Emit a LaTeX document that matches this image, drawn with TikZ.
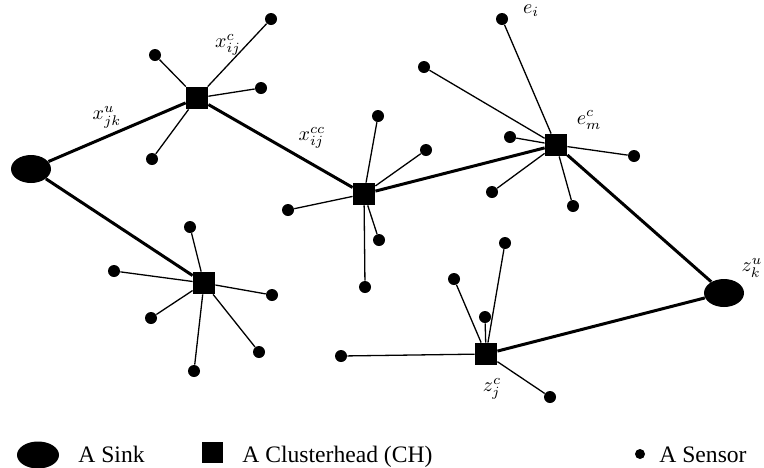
\documentclass[tikz,border=0pt]{standalone}
\usepackage{fontspec}
\setmainfont{Liberation Serif}
\usetikzlibrary{shapes.geometric}
\begin{document}
\begin{tikzpicture}[x=0.5pt,y=-0.5pt,
  sink/.style={ellipse, fill=black, draw=none, minimum width=20pt, minimum height=14pt, inner sep=0pt},
  chead/.style={rectangle, fill=black, draw=none, minimum size=11pt, inner sep=0pt},
  sensor/.style={circle, fill=black, draw=none, minimum size=6pt, inner sep=0pt},
  link/.style={line width=1.5pt},
  tie/.style={line width=0.65pt},
  lab/.style={font=\fontsize{10.3}{12}\selectfont, inner sep=0pt},
  legtext/.style={font=\fontsize{11.8}{14}\selectfont, anchor=base west, inner sep=0pt}]
\useasboundingbox (0,0) rectangle (764,467);
% sinks
\node[sink] (s1) at (31,169) {};
\node[sink] (s2) at (724,293) {};
% clusterheads
\node[chead] (A) at (197,98) {};
\node[chead] (B) at (364,194) {};
\node[chead] (C) at (556,145) {};
\node[chead] (D) at (204,283) {};
\node[chead] (E) at (486,354) {};
% sensors cluster A
\node[sensor] (a1) at (271,19) {};
\node[sensor] (a2) at (155,55) {};
\node[sensor] (a3) at (261,88) {};
\node[sensor] (a4) at (152,159) {};
% sensors cluster B
\node[sensor] (b1) at (378,116) {};
\node[sensor] (b2) at (426,150) {};
\node[sensor] (b3) at (288,210) {};
\node[sensor] (b4) at (379,240) {};
\node[sensor] (b5) at (365,287) {};
% sensors cluster C
\node[sensor] (c1) at (502,19) {};
\node[sensor] (c2) at (424,67) {};
\node[sensor] (c3) at (510,137) {};
\node[sensor] (c4) at (634,156) {};
\node[sensor] (c5) at (492,192) {};
\node[sensor] (c6) at (573,206) {};
% sensors cluster D
\node[sensor] (d1) at (190,227) {};
\node[sensor] (d2) at (114,271) {};
\node[sensor] (d3) at (272,295) {};
\node[sensor] (d4) at (151,318) {};
\node[sensor] (d5) at (259,352) {};
\node[sensor] (d6) at (194,371) {};
% sensors cluster E
\node[sensor] (e1) at (341,356) {};
\node[sensor] (e2) at (454,279) {};
\node[sensor] (e3) at (505,243) {};
\node[sensor] (e4) at (485,317) {};
\node[sensor] (e5) at (550,397) {};
% thick links
\draw[link] (s1) -- (A);
\draw[link] (s1) -- (D);
\draw[link] (A) -- (B);
\draw[link] (B) -- (C);
\draw[link] (C) -- (s2);
\draw[link] (E) -- (s2);
% thin ties
\foreach \s in {a1,a2,a3,a4} \draw[tie] (A) -- (\s);
\foreach \s in {b1,b2,b3,b4,b5} \draw[tie] (B) -- (\s);
\foreach \s in {c1,c2,c3,c4,c5,c6} \draw[tie] (C) -- (\s);
\foreach \s in {d1,d2,d3,d4,d5,d6} \draw[tie] (D) -- (\s);
\foreach \s in {e1,e2,e3,e4,e5} \draw[tie] (E) -- (\s);
% labels
\node[lab] (l1) at (107,117) {$x^{u}_{jk}$};
\node[lab] (l2) at (228,45) {$x^{c}_{ij}$};
\node[lab] (l3) at (312,138) {$x^{cc}_{ij}$};
\node[lab] (l4) at (531,11) {$e_{i}$};
\node[lab] (l5) at (589,120) {$e^{c}_{m}$};
\node[lab] (l6) at (752,268) {$z^{u}_{k}$};
\node[lab] (l7) at (492,389) {$z^{c}_{j}$};
% legend
\node[sink, minimum width=21pt, minimum height=13.5pt] (ls) at (38,455) {};
\node[legtext] (lt1) at (78,462) {A Sink};
\node[chead, minimum size=10.5pt] (lc) at (212,452) {};
\node[legtext] (lt2) at (242,462) {A Clusterhead (CH)};
\node[sensor, minimum size=5pt] (lse) at (640,454) {};
\node[legtext] (lt3) at (659,462) {A Sensor};
\end{tikzpicture}
\end{document}
